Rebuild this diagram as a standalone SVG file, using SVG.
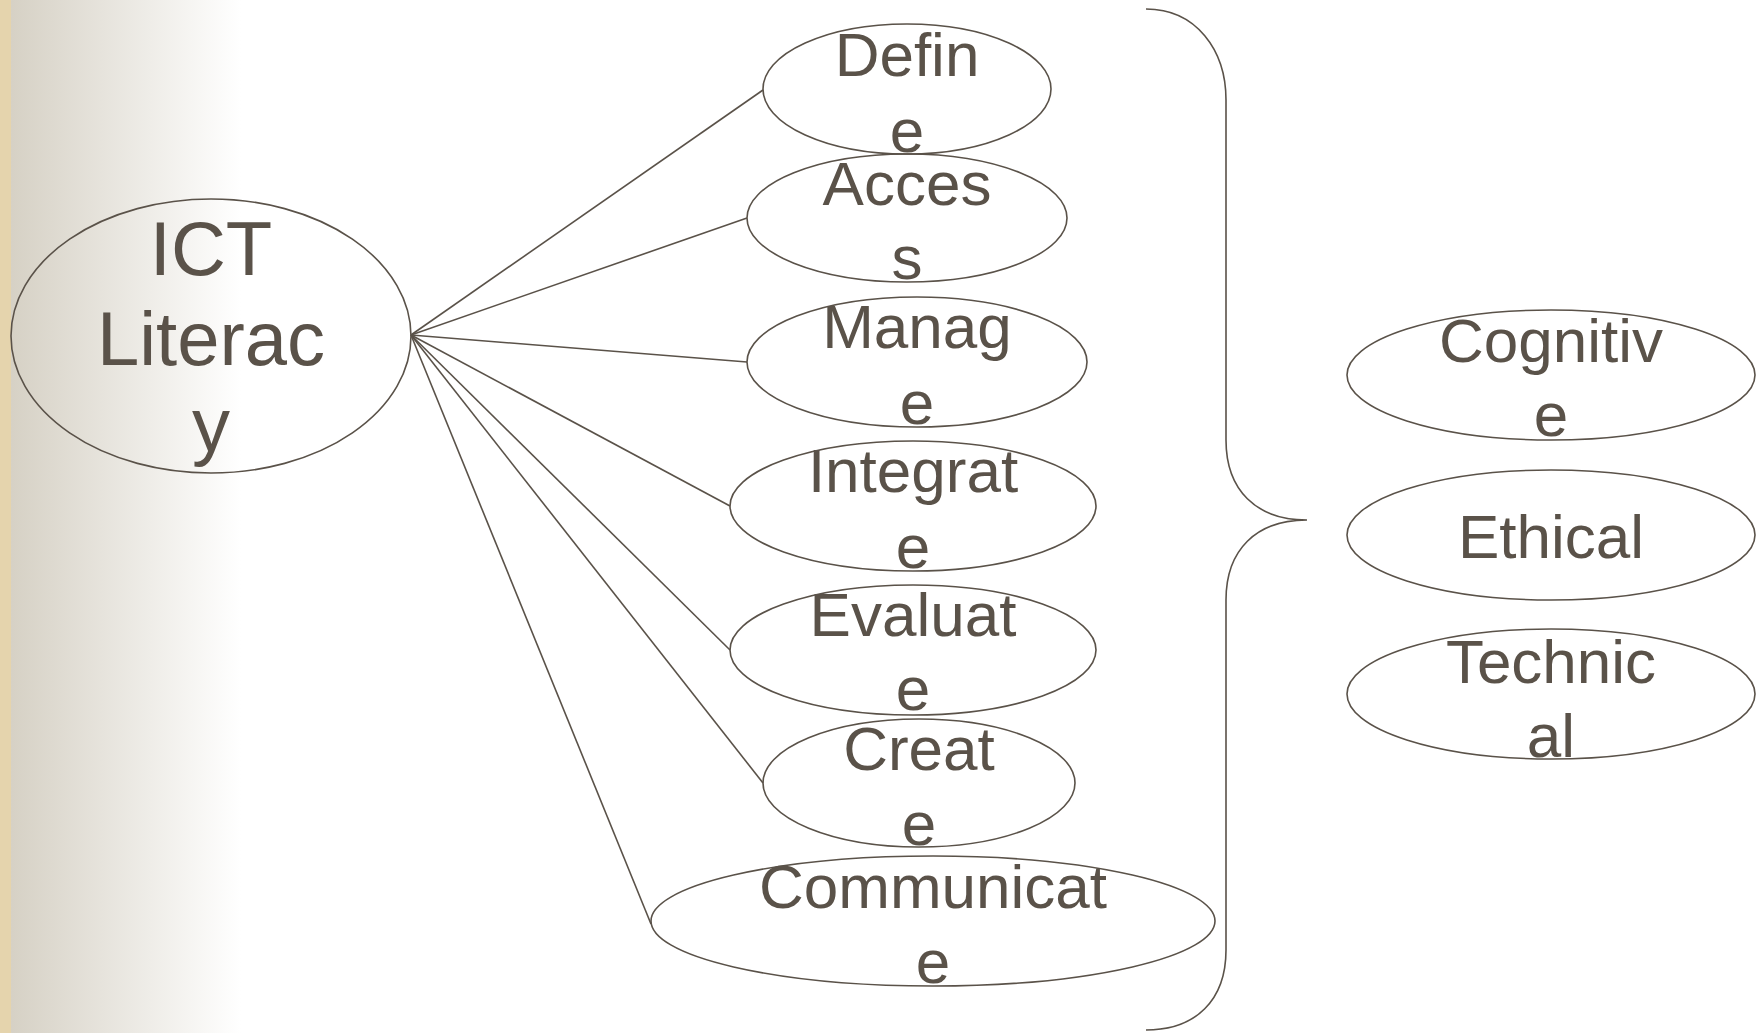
<svg xmlns="http://www.w3.org/2000/svg" width="1762" height="1033" viewBox="0 0 1762 1033">
<defs>
<linearGradient id="bg" x1="0" y1="0" x2="1" y2="0">
<stop offset="0" stop-color="#d6d1c5"/>
<stop offset="1" stop-color="#ffffff"/>
</linearGradient>
<style>
.n{fill:none;stroke:#5a5249;stroke-width:1.6}
.t{font-family:"Liberation Sans",Arial,sans-serif;fill:#5a5249;text-anchor:middle}
.s{font-size:62px}
.b{font-size:76px}
.c{stroke:#5a5249;stroke-width:1.6;fill:none}
</style>
</defs>
<rect width="1762" height="1033" fill="#ffffff"/>
<rect x="11" y="0" width="230" height="1033" fill="url(#bg)"/>
<rect x="0" y="0" width="11" height="1033" fill="#e5d4ad"/>
<g id="connectors">
<line class="c" x1="411" y1="335" x2="763" y2="90"/>
<line class="c" x1="411" y1="335" x2="747" y2="218"/>
<line class="c" x1="411" y1="335" x2="747" y2="362"/>
<line class="c" x1="411" y1="335" x2="730" y2="506"/>
<line class="c" x1="411" y1="335" x2="730" y2="650"/>
<line class="c" x1="411" y1="335" x2="763" y2="783"/>
<line class="c" x1="411" y1="335" x2="651" y2="924"/>
</g>
<g id="brace">
<path class="c" d="M1146,9 C1196,9 1226,50 1226,100 L1226,440 C1226,490 1256,520 1307,520 C1256,520 1226,550 1226,600 L1226,950 C1226,1000 1196,1030 1146,1030"/>
</g>
<g id="ict">
<ellipse class="n" cx="211" cy="336" rx="200" ry="137"/>
<text class="t b" x="211" y="275">ICT</text>
<text class="t b" x="211" y="365">Literac</text>
<text class="t b" x="211" y="451">y</text>
</g>
<g id="define">
<ellipse class="n" cx="907" cy="89" rx="144" ry="65"/>
<text class="t s" x="907" y="76">Defin</text>
<text class="t s" x="907" y="152">e</text>
</g>
<g id="access">
<ellipse class="n" cx="907" cy="218" rx="160" ry="64"/>
<text class="t s" x="907" y="205">Acces</text>
<text class="t s" x="907" y="279">s</text>
</g>
<g id="manage">
<ellipse class="n" cx="917" cy="362" rx="170" ry="65"/>
<text class="t s" x="917" y="348">Manag</text>
<text class="t s" x="917" y="424">e</text>
</g>
<g id="integrate">
<ellipse class="n" cx="913" cy="506" rx="183" ry="65"/>
<text class="t s" x="913" y="492">Integrat</text>
<text class="t s" x="913" y="568">e</text>
</g>
<g id="evaluate">
<ellipse class="n" cx="913" cy="650" rx="183" ry="65"/>
<text class="t s" x="913" y="636">Evaluat</text>
<text class="t s" x="913" y="710">e</text>
</g>
<g id="create">
<ellipse class="n" cx="919" cy="783" rx="156" ry="64"/>
<text class="t s" x="919" y="770">Creat</text>
<text class="t s" x="919" y="845">e</text>
</g>
<g id="communicate">
<ellipse class="n" cx="933" cy="921" rx="282" ry="65"/>
<text class="t s" x="933" y="908">Communicat</text>
<text class="t s" x="933" y="983">e</text>
</g>
<g id="cognitive">
<ellipse class="n" cx="1551" cy="375" rx="204" ry="65"/>
<text class="t s" x="1551" y="362">Cognitiv</text>
<text class="t s" x="1551" y="436">e</text>
</g>
<g id="ethical">
<ellipse class="n" cx="1551" cy="535" rx="204" ry="65"/>
<text class="t s" x="1551" y="558">Ethical</text>
</g>
<g id="technical">
<ellipse class="n" cx="1551" cy="694" rx="204" ry="65"/>
<text class="t s" x="1551" y="683">Technic</text>
<text class="t s" x="1551" y="757">al</text>
</g>
</svg>
